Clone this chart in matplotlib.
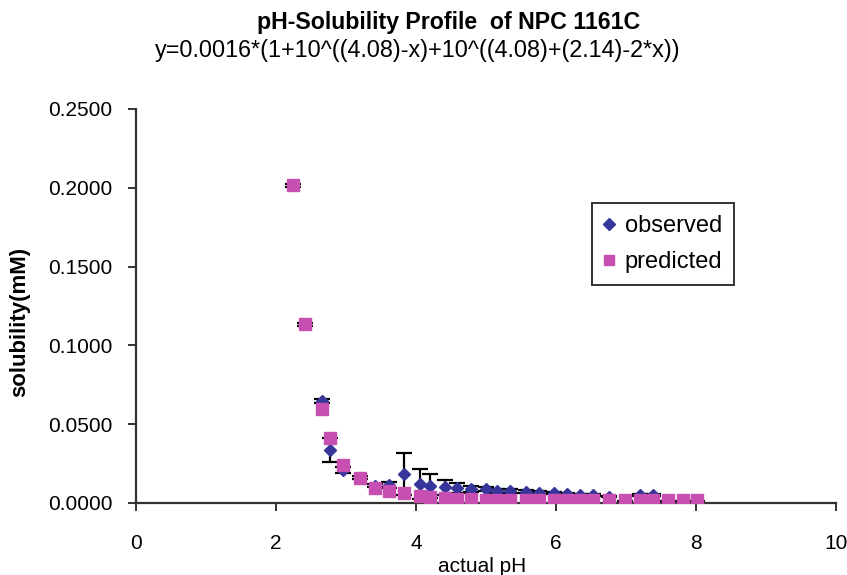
import numpy as np
import matplotlib
matplotlib.use('Agg')
import matplotlib.pyplot as plt

plt.rcParams['font.family'] = ['Liberation Sans', 'DejaVu Sans']

# values
ph = [2.24, 2.42, 2.65, 2.77, 2.96, 3.20, 3.41, 3.62, 3.83, 4.06,
      4.20, 4.41, 4.58, 4.79, 5.00, 5.16, 5.34, 5.57, 5.76, 5.97,
      6.15, 6.34, 6.53, 6.75, 6.99, 7.20, 7.39, 7.60, 7.81, 8.01]
observed = [0.2017, 0.1133, 0.0647, 0.0335, 0.0210, 0.0160, 0.0110, 0.0114, 0.0184, 0.0120,
            0.0108, 0.0099, 0.0093, 0.0087, 0.0087, 0.0076, 0.0076, 0.0072, 0.0065, 0.0065,
            0.0060, 0.0050, 0.0050, 0.0040, 0.0010, 0.0050, 0.0050, 0.0010, 0.0010, 0.0010]
obs_err = [0.0010, 0.0010, 0.0010, 0.0075, 0.0020, 0.0010, 0.0010, 0.0020, 0.0136, 0.0095,
           0.0076, 0.0047, 0.0032, 0.0020, 0.0012, 0.0010, 0.0010, 0.0008, 0.0008, 0.0006,
           0.0005, 0.0005, 0.0005, 0.0005, 0.0005, 0.0005, 0.0005, 0.0005, 0.0005, 0.0005]
predicted = [0.2017, 0.1133, 0.0599, 0.0410, 0.0240, 0.0156, 0.0093, 0.0076, 0.0061, 0.0045,
             0.0040, 0.0032, 0.0028, 0.0024, 0.0021, 0.0020, 0.0019, 0.0018, 0.0017, 0.0017,
             0.0017, 0.0016, 0.0016, 0.0016, 0.0016, 0.0016, 0.0016, 0.0016, 0.0016, 0.0016]

xticks = [0, 2, 4, 6, 8, 10]
yticks = [0.0, 0.05, 0.10, 0.15, 0.20, 0.25]

fig = plt.figure(figsize=(8.47, 5.75), dpi=100)
ax = fig.add_axes([136 / 847, 1 - 503 / 575, 700 / 847, 394 / 575])

ax.errorbar(ph, observed, yerr=obs_err, fmt='none', ecolor='black',
            elinewidth=1.6, capsize=5.5, capthick=1.6, zorder=2)
ax.plot(ph, observed, 'D', color='#36369A', ms=6.5, label='observed', zorder=3)
ax.plot(ph, predicted, 's', color='#C84FB2', ms=8.5, label='predicted', zorder=4)

ax.set_xlim(0, 10)
ax.set_ylim(0, 0.25)
ax.set_xticks(xticks)
ax.set_yticks(yticks)
ax.set_yticklabels(['%.4f' % v for v in yticks])
ax.tick_params(labelsize=15, direction='out', length=6, width=1.4, color='#333333')
ax.tick_params(axis='x', pad=16)
ax.tick_params(axis='y', pad=11)
for s in ['top', 'right']:
    ax.spines[s].set_visible(False)
for s in ['left', 'bottom']:
    ax.spines[s].set_linewidth(1.6)
    ax.spines[s].set_color('#333333')

ax.set_xlabel('actual pH', fontsize=15, va='center')
ax.xaxis.set_label_coords((482 - 136) / 700, (503 - 566) / 394)
ax.set_ylabel('solubility(mM)', fontsize=16, fontweight='bold', va='center')
ax.yaxis.set_label_coords((20 - 136) / 700, (503 - 322) / 394)

fig.text(449 / 847, 1 - 23 / 575, 'pH-Solubility Profile  of NPC 1161C', ha='center', va='center',
         fontsize=16.7, fontweight='bold')
fig.text(418 / 847, 1 - 51 / 575, 'y=0.0016*(1+10^((4.08)-x)+10^((4.08)+(2.14)-2*x))', ha='center',
         va='center', fontsize=16.8)

leg = ax.legend(loc='upper left', bbox_to_anchor=(0.651, 0.761), borderaxespad=0,
                fontsize=17, fancybox=False, handletextpad=0.4, handlelength=0.5,
                markerscale=0.9, borderpad=0.5, labelspacing=0.6)
leg.get_frame().set_edgecolor('black')
leg.get_frame().set_linewidth(1.4)

fig.savefig('out.png', dpi=100)
